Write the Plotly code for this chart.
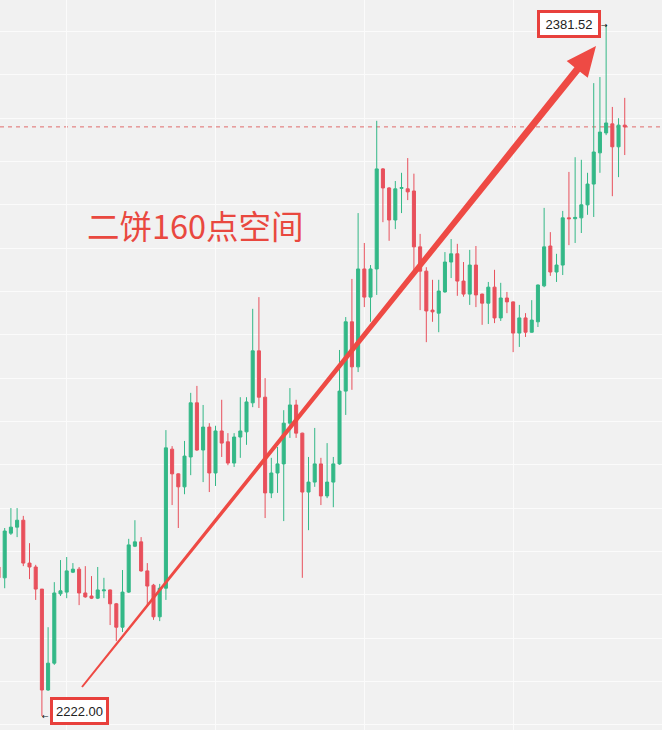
import numpy as np
import plotly.graph_objects as go

# ---- data ----
idx = list(range(-1, 101))
opens = [2256.4, 2253.9, 2264.2, 2265.6, 2267.2, 2257.3, 2256.4, 2251.3, 2228.0, 2234.2, 2250.2,
         2250.6, 2255.2, 2255.9, 2250.4, 2249.7, 2249.2, 2250.9, 2251.1, 2247.9, 2242.5, 2250.6,
         2261.2, 2262.2, 2255.5, 2252.2, 2244.9, 2251.5, 2283.6, 2277.9, 2274.9, 2281.8, 2294.3,
         2283.4, 2288.7, 2278.1, 2287.8, 2285.3, 2280.4, 2286.4, 2287.6, 2294.3, 2306.3, 2295.6,
         2273.5, 2278.1, 2280.2, 2289.6, 2293.8, 2287.3, 2273.7, 2276.0, 2280.2, 2272.8, 2276.0,
         2280.2, 2297.0, 2313.0, 2302.6, 2325.2, 2318.7, 2325.2, 2348.3, 2343.9, 2336.5, 2343.8,
         2343.7, 2343.2, 2330.3, 2324.7, 2315.7, 2315.0, 2319.9, 2326.8, 2328.7, 2322.4, 2319.4,
         2326.1, 2319.4, 2317.3, 2321.0, 2313.9, 2318.5, 2317.6, 2310.4, 2313.9, 2310.6, 2313.0,
         2321.3, 2330.5, 2324.5, 2326.1, 2337.0, 2336.8, 2337.0, 2340.0, 2344.8, 2352.0, 2356.6,
         2358.7, 2353.4, 2358.4]
closes = [2253.9, 2264.7, 2265.6, 2267.2, 2257.3, 2256.4, 2251.3, 2228.0, 2234.2, 2250.4, 2250.9,
          2255.5, 2255.9, 2250.4, 2249.5, 2249.2, 2251.1, 2251.1, 2247.9, 2242.5, 2250.6, 2261.5,
          2262.2, 2255.5, 2252.0, 2244.9, 2251.5, 2283.9, 2277.9, 2274.9, 2282.0, 2294.3, 2283.4,
          2288.7, 2278.1, 2287.8, 2285.0, 2280.4, 2286.4, 2287.8, 2294.5, 2306.3, 2295.6, 2273.5,
          2278.1, 2280.2, 2289.6, 2293.8, 2287.3, 2273.7, 2276.0, 2280.2, 2272.8, 2276.0, 2280.2,
          2297.0, 2313.0, 2302.6, 2325.2, 2318.7, 2325.2, 2348.3, 2343.9, 2336.5, 2343.7, 2344.0,
          2343.0, 2330.3, 2324.7, 2315.5, 2315.3, 2320.1, 2326.8, 2328.7, 2322.4, 2319.4, 2326.1,
          2319.2, 2317.3, 2321.0, 2313.9, 2318.5, 2317.6, 2310.4, 2313.9, 2310.6, 2313.4, 2321.5,
          2330.3, 2324.5, 2326.1, 2337.0, 2336.8, 2337.1, 2340.0, 2344.8, 2352.2, 2356.8, 2358.9,
          2353.4, 2358.4, 2358.0]
highs = [2258.0, 2265.4, 2270.0, 2270.0, 2268.2, 2261.9, 2256.9, 2251.3, 2242.5, 2252.9, 2258.0,
         2258.7, 2257.3, 2256.4, 2256.6, 2254.3, 2256.4, 2253.9, 2251.2, 2248.1, 2255.7, 2262.9,
         2267.2, 2263.3, 2257.3, 2252.5, 2252.5, 2288.0, 2284.3, 2278.0, 2285.5, 2296.6, 2298.2,
         2293.8, 2289.6, 2289.0, 2295.0, 2287.3, 2287.3, 2295.6, 2295.6, 2316.0, 2318.7, 2300.0,
         2281.6, 2284.1, 2292.6, 2297.7, 2295.0, 2287.4, 2281.8, 2288.5, 2281.6, 2285.0, 2281.8,
         2306.5, 2314.1, 2322.9, 2338.1, 2331.2, 2326.1, 2359.4, 2348.5, 2344.1, 2345.5, 2347.4,
         2350.8, 2347.2, 2333.3, 2325.6, 2322.7, 2322.7, 2329.1, 2332.1, 2331.0, 2326.8, 2329.6,
         2330.5, 2319.5, 2322.2, 2325.0, 2322.0, 2319.9, 2317.7, 2316.9, 2315.0, 2318.0, 2321.6,
         2339.3, 2333.7, 2328.7, 2338.6, 2347.6, 2351.0, 2350.4, 2347.4, 2368.1, 2369.5, 2381.52,
         2362.6, 2360.0, 2364.7]
lows = [2252.9, 2251.5, 2263.8, 2263.3, 2256.6, 2253.6, 2248.8, 2222.0, 2227.8, 2233.8, 2249.7,
        2249.2, 2255.0, 2247.6, 2249.3, 2249.0, 2249.0, 2249.2, 2243.0, 2239.3, 2241.4, 2250.4,
        2261.0, 2255.3, 2247.2, 2244.2, 2243.9, 2248.8, 2270.7, 2265.4, 2273.2, 2277.6, 2283.2,
        2276.0, 2273.7, 2275.1, 2281.8, 2279.9, 2279.5, 2281.6, 2284.6, 2293.3, 2293.1, 2267.7,
        2272.3, 2273.5, 2267.0, 2286.2, 2286.2, 2253.9, 2264.9, 2274.9, 2270.7, 2272.3, 2270.2,
        2280.0, 2291.5, 2297.3, 2301.4, 2316.4, 2313.0, 2319.2, 2336.0, 2331.7, 2334.4, 2338.1,
        2341.1, 2324.7, 2315.7, 2308.3, 2313.0, 2310.6, 2319.7, 2323.1, 2319.0, 2318.8, 2316.9,
        2316.4, 2312.3, 2312.5, 2312.7, 2313.2, 2315.0, 2306.0, 2307.2, 2309.5, 2310.5, 2311.8,
        2321.0, 2323.6, 2322.2, 2323.8, 2330.7, 2331.2, 2333.5, 2337.7, 2337.2, 2347.4, 2356.1,
        2342.0, 2346.4, 2351.5]

high_label = "2381.52"
low_label = "2222.00"
ref_level = 2358.0
title_text = "二饼160点空间"

UP = "#33b887"
DOWN = "#e8505c"
RED = "#ee4a44"

W, H = 662, 730

fig = go.Figure(go.Candlestick(
    x=idx, open=opens, high=highs, low=lows, close=closes,
    increasing=dict(line=dict(color=UP, width=1), fillcolor=UP),
    decreasing=dict(line=dict(color=DOWN, width=1), fillcolor=DOWN),
    whiskerwidth=0, showlegend=False, hoverinfo="skip"))

def P(x, y):
    return x / W, 1 - y / H

# tapered arrow polygon (pixel geometry of the annotation drawing)
tail = np.array([82.0, 687.0])
tip = np.array([596.0, 46.0])
u = (tip - tail) / np.linalg.norm(tip - tail)
n = np.array([-u[1], u[0]])
base = tip - 30 * u
pts = [tail + 1.0 * n, base + 3.6 * n, base + 13.5 * n, tip,
       base - 13.5 * n, base - 3.6 * n, tail - 1.0 * n]
path = "M " + " L ".join("%.5f %.5f" % P(p[0], p[1]) for p in pts) + " Z"

shapes = [
    dict(type="line", xref="paper", yref="y", x0=0, x1=1, y0=ref_level, y1=ref_level,
         line=dict(color="#e06a6a", width=1, dash="4px,4px"), layer="below"),
    dict(type="path", xref="paper", yref="paper", path=path,
         fillcolor=RED, line=dict(width=0)),
]

ann = []
hx, hy = P(569, 24)
ann.append(dict(xref="paper", yref="paper", x=hx, y=hy, text=high_label, showarrow=False,
                font=dict(family="Liberation Sans, Arial", size=13, color="#222"),
                bgcolor="white", bordercolor="#e8403c", borderwidth=3, borderpad=0,
                width=58, height=22, xanchor="center", yanchor="middle"))
lx, ly = P(79.5, 711)
ann.append(dict(xref="paper", yref="paper", x=lx, y=ly, text=low_label, showarrow=False,
                font=dict(family="Liberation Sans, Arial", size=13, color="#222"),
                bgcolor="white", bordercolor="#e8403c", borderwidth=3, borderpad=0,
                width=53, height=22, xanchor="center", yanchor="middle"))
ax_, ay_ = P(604, 25)
ann.append(dict(xref="paper", yref="paper", x=ax_, y=ay_, text="→", showarrow=False,
                font=dict(family="DejaVu Sans", size=8, color="#111"),
                xanchor="center", yanchor="middle"))
bx_, by_ = P(45, 716)
ann.append(dict(xref="paper", yref="paper", x=bx_, y=by_, text="←", showarrow=False,
                font=dict(family="DejaVu Sans", size=8, color="#111"),
                xanchor="center", yanchor="middle"))
tx, ty = P(195.5, 224)
ann.append(dict(xref="paper", yref="paper", x=tx, y=ty, text=title_text, showarrow=False,
                font=dict(family="Noto Sans CJK SC", size=32.5, color="#e9483f"),
                xanchor="center", yanchor="middle"))

fig.update_layout(
    width=W, height=H, margin=dict(l=0, r=0, t=0, b=0),
    paper_bgcolor="#f1f1f1", plot_bgcolor="#f1f1f1",
    shapes=shapes, annotations=ann,
    xaxis=dict(range=[-0.758, 106.01], showticklabels=False, zeroline=False,
               showgrid=True, gridcolor="#fbfbfb", gridwidth=1, tick0=10, dtick=24,
               rangeslider=dict(visible=False), fixedrange=True),
    yaxis=dict(range=[2218.77, 2387.29], showticklabels=False, zeroline=False,
               showgrid=True, gridcolor="#fbfbfb", gridwidth=1, tick0=0, dtick=10,
               fixedrange=True),
)

fig.write_html("out.html", config={"displayModeBar": False},
               post_script="document.body.style.margin='0';document.body.style.overflow='hidden';")
